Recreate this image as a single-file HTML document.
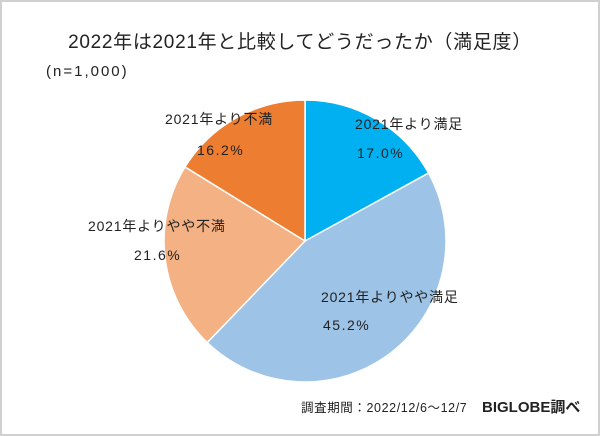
<!DOCTYPE html>
<html><head><meta charset="utf-8"><style>
html,body{margin:0;padding:0;background:#fff}
#c{position:relative;width:596px;height:432px;border:2px solid #d0d0d0;overflow:hidden}
text{font-family:"Liberation Sans","Noto Sans CJK JP",sans-serif;fill:#222}
</style></head><body>
<div id="c">
<svg id="s" width="596" height="432">
<text x="298" y="46" font-size="19" letter-spacing="0.7" text-anchor="middle">2022年は2021年と比較してどうだったか（満足度）</text>
<text x="44" y="74" font-size="15" letter-spacing="2">(n=1,000)</text>
<g id="slices"></g>
<g id="labels"></g>
<text x="299" y="410" font-size="12.5" letter-spacing="0.6" fill="#333">調査期間：2022/12/6～12/7</text>
<text x="480" y="410" font-size="15" font-weight="bold">BIGLOBE調べ</text>
</svg>
</div>
<script>
const categories=["2021年より満足","2021年よりやや満足","2021年よりやや不満","2021年より不満"];
const values=[17.0,45.2,21.6,16.2];
const colors=["#00b0f0","#9dc3e6","#f4b183","#ed7d31"];
const labelPos=[[353,127],[319,300],[86,229],[163,122]];
const pctPos=[[355,156],[321,328],[132,258],[195,153]];
const cx=303,cy=239,r=141;
const ns="http://www.w3.org/2000/svg";
const sg=document.getElementById('slices'),lg=document.getElementById('labels');
const total=values.reduce((a,b)=>a+b,0);
let a0=-Math.PI/2;
values.forEach((v,i)=>{
  const a1=a0+v/total*2*Math.PI;
  const x0=cx+r*Math.cos(a0),y0=cy+r*Math.sin(a0),x1=cx+r*Math.cos(a1),y1=cy+r*Math.sin(a1);
  const p=document.createElementNS(ns,'path');
  p.setAttribute('d',`M${cx},${cy}L${x0},${y0}A${r},${r} 0 ${a1-a0>Math.PI?1:0} 1 ${x1},${y1}Z`);
  p.setAttribute('fill',colors[i]);p.setAttribute('stroke','#fff');p.setAttribute('stroke-width','1.5');
  
  
  sg.appendChild(p);
  const t=document.createElementNS(ns,'text');
  t.setAttribute('x',labelPos[i][0]);t.setAttribute('y',labelPos[i][1]);t.setAttribute('font-size','14');
  t.setAttribute('letter-spacing','0.8');
  t.textContent=categories[i];
  
  
  lg.appendChild(t);
  const t2=document.createElementNS(ns,'text');
  t2.setAttribute('x',pctPos[i][0]);t2.setAttribute('y',pctPos[i][1]);t2.setAttribute('font-size','14');
  t2.setAttribute('letter-spacing','1.5');
  t2.textContent=v.toFixed(1)+'%';
  
  
  lg.appendChild(t2);
  a0=a1;
});
</script>
</body></html>
